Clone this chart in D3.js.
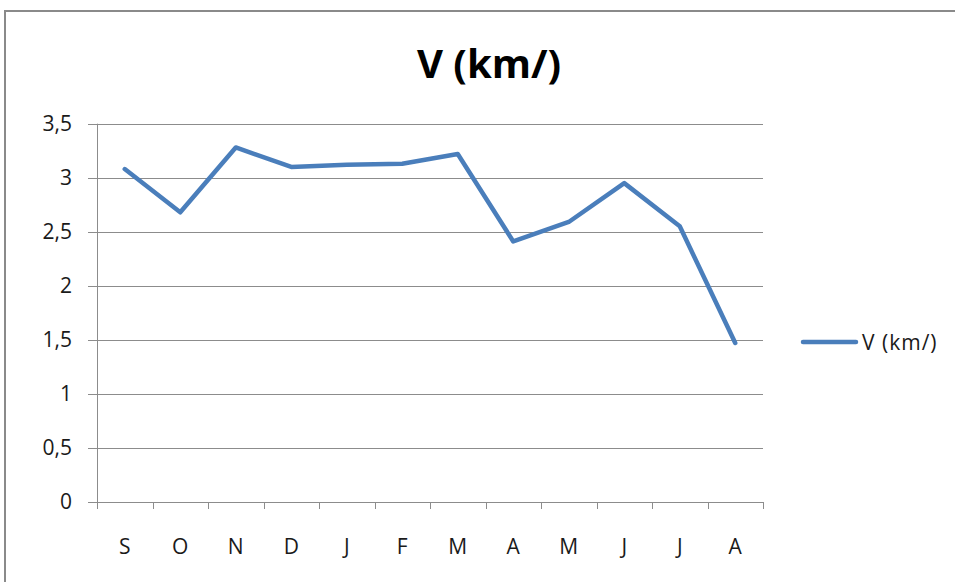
<!DOCTYPE html>
<html><head><meta charset="utf-8">
<script src="https://cdn.jsdelivr.net/npm/d3@7"></script>
<style>body{margin:0;background:#fff}svg{display:block}</style>
</head><body>
<script>
const categories = ["S","O","N","D","J","F","M","A","M","J","J","A"];
const values = [3.08, 2.68, 3.28, 3.10, 3.12, 3.13, 3.22, 2.41, 2.59, 2.95, 2.55, 1.47];
const yTicks = [0, 0.5, 1, 1.5, 2, 2.5, 3, 3.5];
const seriesName = "V (km/)";
const title = "V (km/)";

const W = 955, H = 582;
const svg = d3.select("body").append("svg").attr("width", W).attr("height", H);
const font = "'Open Sans', sans-serif";

svg.append("rect").attr("x", 5).attr("y", 11).attr("width", 1000).attr("height", 700)
  .attr("fill", "#fff").attr("stroke", "#8a8a8a").attr("stroke-width", 2);

const x0 = 97, x1 = 763, yTop = 123.7, yBot = 501.7;
const x = d3.scaleBand().domain(d3.range(categories.length)).range([x0, x1]);
const y = d3.scaleLinear().domain([0, 3.5]).range([yBot, yTop]);

const grid = "#8c8c8c";
svg.append("g").selectAll("line").data(yTicks).join("line")
  .attr("x1", x0 - 9).attr("x2", x1)
  .attr("y1", d => Math.round(y(d)) + 0.5).attr("y2", d => Math.round(y(d)) + 0.5)
  .attr("stroke", grid).attr("stroke-width", 1);
svg.append("line").attr("x1", x0 + 0.5).attr("x2", x0 + 0.5)
  .attr("y1", y(3.5)).attr("y2", yBot + 6).attr("stroke", grid);
const bounds = d3.range(categories.length + 1).map(i => x0 + i * x.bandwidth());
svg.append("g").selectAll("line").data(bounds).join("line")
  .attr("x1", d => Math.round(d) + 0.5).attr("x2", d => Math.round(d) + 0.5)
  .attr("y1", Math.round(yBot)).attr("y2", Math.round(yBot) + 7)
  .attr("stroke", grid);

svg.append("g").selectAll("text").data(yTicks).join("text")
  .attr("x", 72).attr("y", d => y(d)).attr("dy", "0.36em")
  .attr("text-anchor", "end").attr("font-family", font).attr("font-size", 21)
  .attr("fill", "#1a1a1a").text(d => String(d).replace(".", ","));
svg.append("g").selectAll("text").data(categories).join("text")
  .attr("x", (d, i) => x(i) + x.bandwidth() / 2).attr("y", 546).attr("dy", "0.36em")
  .attr("text-anchor", "middle").attr("font-family", font).attr("font-size", 21)
  .attr("fill", "#1a1a1a").text(d => d);

const line = d3.line().x((d, i) => x(i) + x.bandwidth() / 2).y(d => y(d));
svg.append("path").datum(values).attr("d", line)
  .attr("fill", "none").attr("stroke", "#4a7ebb").attr("stroke-width", 4.5)
  .attr("stroke-linejoin", "round").attr("stroke-linecap", "round");

svg.append("text").attr("x", 489).attr("y", 78).attr("text-anchor", "middle")
  .attr("font-family", font).attr("font-weight", "bold").attr("font-size", 40)
  .attr("fill", "#000").text(title);

svg.append("line").attr("x1", 803).attr("x2", 856).attr("y1", 342).attr("y2", 342)
  .attr("stroke", "#4a7ebb").attr("stroke-width", 4.5).attr("stroke-linecap", "round");
svg.append("text").attr("x", 862).attr("y", 342).attr("dy", "0.36em")
  .attr("font-family", font).attr("font-size", 21).attr("letter-spacing", 1)
  .attr("fill", "#1a1a1a").text(seriesName);
</script>
</body></html>
